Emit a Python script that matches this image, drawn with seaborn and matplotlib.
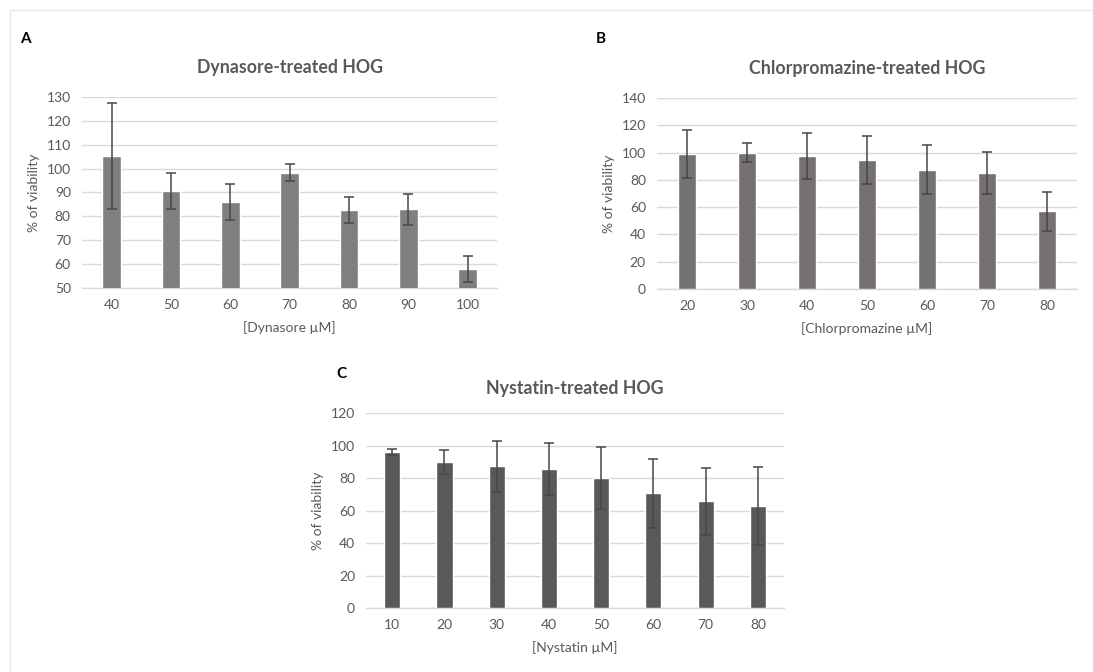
import numpy as np
import pandas as pd
import matplotlib
matplotlib.use("Agg")
import matplotlib.pyplot as plt
from matplotlib.lines import Line2D
import seaborn as sns

sns.set_theme(style="white")
plt.rcParams['font.family'] = ['Lato', 'DejaVu Sans']

# Panel A - Dynasore
dyn_conc = ["40", "50", "60", "70", "80", "90", "100"]
dyn_mean = [105.2, 90.7, 86.1, 98.3, 82.7, 83.0, 57.8]
dyn_err = [22.3, 7.5, 7.5, 3.5, 5.3, 6.5, 5.4]

# Panel B - Chlorpromazine
chl_conc = ["20", "30", "40", "50", "60", "70", "80"]
chl_mean = [99.2, 99.8, 97.6, 94.6, 87.6, 85.1, 57.0]
chl_err = [17.6, 6.9, 16.8, 17.7, 18.2, 15.2, 14.4]

# Panel C - Nystatin
nys_conc = ["10", "20", "30", "40", "50", "60", "70", "80"]
nys_mean = [95.8, 89.8, 87.2, 85.6, 79.9, 70.6, 65.8, 62.8]
nys_err = [1.8, 7.3, 15.6, 15.8, 19.0, 21.2, 20.6, 24.1]

text_col = "#595959"
grid_col = "#d9d9d9"


def panel(ax, conc, mean, err, color, title, xlabel, ylim, ystep, tpad):
    df = pd.DataFrame({"conc": conc, "mean": mean})
    sns.barplot(data=df, x="conc", y="mean", color=color, width=0.31,
                saturation=1, errorbar=None, ax=ax, zorder=3)
    ax.errorbar(np.arange(len(conc)), mean, yerr=err, fmt="none",
                ecolor="#474747", elinewidth=1.1, capsize=3.5,
                capthick=1.1, zorder=4)
    ax.set_ylim(*ylim)
    ax.set_yticks(np.arange(ylim[0], ylim[1] + 1, ystep))
    ax.set_xlim(-0.5, len(conc) - 0.5)
    ax.yaxis.grid(True, color=grid_col, linewidth=1, zorder=0)
    ax.set_axisbelow(True)
    for s in ["left", "right", "top"]:
        ax.spines[s].set_visible(False)
    ax.spines["bottom"].set_color(grid_col)
    ax.spines["bottom"].set_linewidth(1)
    ax.tick_params(axis="both", length=0, labelsize=10, colors=text_col, pad=8)
    ax.set_xlabel(xlabel, fontsize=10, color=text_col, labelpad=7)
    ax.set_ylabel("% of viability", fontsize=10, color=text_col, labelpad=5)
    ax.set_title(title, fontsize=12.8, fontweight="bold", color=text_col, pad=tpad)


fig = plt.figure(figsize=(10.93, 6.72), dpi=100)

axA = fig.add_axes([0.075, 0.5714, 0.38, 0.2843])
panel(axA, dyn_conc, dyn_mean, dyn_err, "#7f7f7f", "Dynasore-treated HOG",
      "[Dynasore µM]", (50, 130), 10, 17)

axB = fig.add_axes([0.6011, 0.5699, 0.3843, 0.2842])
panel(axB, chl_conc, chl_mean, chl_err, "#767171", "Chlorpromazine-treated HOG",
      "[Chlorpromazine µM]", (0, 140), 20, 17)

axC = fig.add_axes([0.3349, 0.0952, 0.3824, 0.2902])
panel(axC, nys_conc, nys_mean, nys_err, "#595959", "Nystatin-treated HOG",
      "[Nystatin µM]", (0, 120), 20, 14)

# panel letters
fig.text(0.018, 0.942, "A", fontsize=11, fontweight="bold", color="black", va="center")
fig.text(0.545, 0.942, "B", fontsize=11, fontweight="bold", color="black", va="center")
fig.text(0.308, 0.443, "C", fontsize=11, fontweight="bold", color="black", va="center")

# light frame at top-left
fig.add_artist(Line2D([0.009, 1.0], [0.985, 0.985], transform=fig.transFigure,
                      color="#e6e6e6", linewidth=1))
fig.add_artist(Line2D([0.009, 0.009], [0.0, 0.985], transform=fig.transFigure,
                      color="#e6e6e6", linewidth=1))

fig.savefig("out.png", dpi=100, facecolor="white")
